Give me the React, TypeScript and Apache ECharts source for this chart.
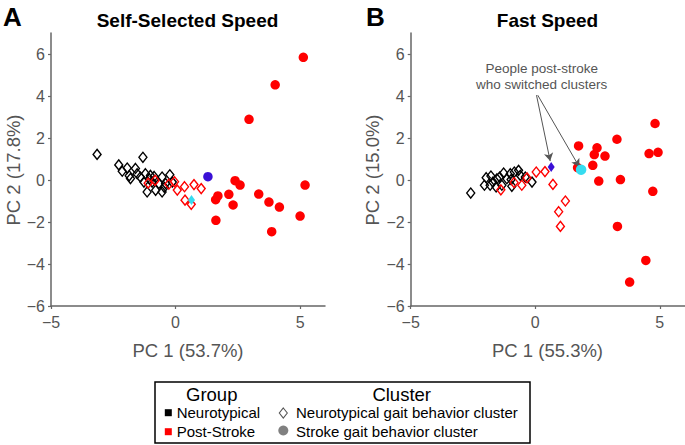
import React, { useEffect, useRef } from "react";
import * as echarts from "echarts";

// ---- Panel A: Self-Selected Speed ----
const aNeuroDiamonds: number[][] = [
  [-3.15, 1.22], [-1.31, 1.08], [-2.28, 0.72], [-2.14, 0.42], [-1.94, 0.57], [-1.86, 0.2],
  [-1.61, 0.55], [-1.81, 0.07], [-1.54, 0.3], [-1.41, 0.14], [-1.21, 0.3], [-1.01, 0.22],
  [-0.86, 0.17], [-0.54, 0.14], [-0.23, 0.25], [-1.14, -0.57], [-0.8, -0.49], [-0.54, -0.57],
  [-0.67, -0.17], [-0.4, -0.17], [-0.13, -0.1], [-1.27, -0.1], [-0.94, -0.1], [-0.45, -0.35],
  [-1.05, 0.05],
];
const aStrokeDiamonds: number[][] = [
  [-1.1, -0.15], [-0.82, -0.02], [-0.27, -0.2], [-0.04, -0.08], [0.07, -0.48], [0.36, -0.32],
  [0.74, -0.22], [1.03, -0.41], [0.38, -0.96], [0.63, -1.16],
];
const aStrokeCircles: number[][] = [
  [5.13, 5.84], [4.0, 4.53], [2.95, 2.89], [2.39, -0.03], [2.59, -0.24], [5.2, -0.24],
  [2.14, -0.68], [3.34, -0.67], [1.7, -0.76], [1.61, -0.94], [2.31, -1.19], [3.75, -1.05],
  [4.17, -1.29], [5.0, -1.72], [1.62, -1.92], [3.86, -2.46],
];
const aSwitchBlue: number[][] = [[1.3, 0.16]];
const aSwitchCyan: number[][] = [[0.64, -0.95]];

// ---- Panel B: Fast Speed ----
const bNeuroDiamonds: number[][] = [
  [-2.59, -0.62], [-2.04, -0.25], [-1.97, 0.11], [-1.78, 0.19], [-1.7, -0.1], [-1.57, -0.33],
  [-1.43, 0.14], [-1.27, 0.33], [-1.14, 0.06], [-0.94, -0.3], [-0.84, 0.38], [-0.6, 0.22],
  [-0.4, 0.14], [-0.13, -0.1], [-1.34, -0.25], [-1.0, 0.3], [-0.67, 0.46], [-1.81, -0.25],
  [-1.54, 0.06], [-0.97, 0.02],
];
const bStrokeDiamonds: number[][] = [
  [0.04, 0.38], [0.39, 0.4], [-0.33, 0.1], [0.71, -0.21], [1.21, -1.0], [0.94, -1.51],
  [1.01, -2.21], [-1.38, -0.47], [-0.54, -0.25], [-0.85, -0.12],
];
const bStrokeCircles: number[][] = [
  [4.81, 2.69], [3.28, 1.94], [1.74, 1.62], [2.48, 1.53], [2.37, 1.21], [2.8, 1.14],
  [4.57, 1.26], [4.93, 1.32], [2.31, 0.7], [1.7, 0.59], [2.55, -0.05], [3.42, 0.02],
  [4.72, -0.54], [3.3, -2.21], [4.44, -3.83], [3.79, -4.86],
];
const bSwitchBlue: number[][] = [[0.64, 0.62]];
const bSwitchCyan: number[][] = [[1.84, 0.49]];

// arrows (data coords) from annotation to switched points
const arrowStarts: number[][] = [[0.05, 4.04], [0.1, 4.04]];
const arrowEnds: number[][] = [[0.6, 0.9], [1.77, 0.62]];

const xTicks = [-5, 0, 5];
const yTicks = [-6, -4, -2, 0, 2, 4, 6];
const panelTitles = ["Self-Selected Speed", "Fast Speed"];
const xNames = ["PC 1 (53.7%)", "PC 1 (55.3%)"];
const yNames = ["PC 2 (17.8%)", "PC 2 (15.0%)"];

const FONT = "'Liberation Sans', Arial, Helvetica, sans-serif";
const RED = "#ff0000";
const BLUE = "#3a10d6";
const CYAN = "#36dcf0";
const AXIS = "#666666";
const TXT = "#555555";

export default function App() {
  const ref = useRef<HTMLDivElement>(null);
  useEffect(() => {
    if (!ref.current) return;
    const chart = echarts.init(ref.current, undefined, { renderer: "svg" });
    const minusFmt = (v: number) => String(v).replace("-", "\u2212");
    const mkX = (gi: number) => ({
      type: "value",
      gridIndex: gi,
      min: -5,
      max: 6,
      interval: 5,
      axisLine: { show: true, onZero: false, lineStyle: { color: AXIS, width: 1.5 } },
      axisTick: { show: true, length: 3, customValues: xTicks, lineStyle: { color: AXIS, width: 1.2 } },
      axisLabel: { customValues: xTicks, color: TXT, fontSize: 16, fontFamily: FONT, margin: 8, formatter: minusFmt },
      splitLine: { show: false },
    });
    const mkY = (gi: number) => ({
      type: "value",
      gridIndex: gi,
      min: -6,
      max: 7,
      interval: 2,
      axisLine: { show: true, onZero: false, lineStyle: { color: AXIS, width: 1.5 } },
      axisTick: { show: true, length: 3, customValues: yTicks, lineStyle: { color: AXIS, width: 1.2 } },
      axisLabel: { customValues: yTicks, color: TXT, fontSize: 16, fontFamily: FONT, margin: 6, formatter: minusFmt },
      splitLine: { show: false },
    });
    const openDiamond = (data: number[][], color: string, gi: number, z: number) => ({
      type: "scatter",
      xAxisIndex: gi,
      yAxisIndex: gi,
      data,
      symbol: "diamond",
      symbolSize: [8, 10],
      z,
      itemStyle: { color: "rgba(0,0,0,0)", borderColor: color, borderWidth: 1.4, opacity: 1 },
      emphasis: { disabled: true },
    });
    const filled = (data: number[][], color: string, gi: number, symbol: string, size: any, z: number) => ({
      type: "scatter",
      xAxisIndex: gi,
      yAxisIndex: gi,
      data,
      symbol,
      symbolSize: size,
      z,
      itemStyle: { color, opacity: 1 },
      emphasis: { disabled: true },
    });

    const arrowData = arrowStarts.map((s, i) => [
      { coord: s, symbol: "none" },
      { coord: arrowEnds[i], symbol: "arrow" },
    ]);

    const txt = (x: number, y: number, text: string, size: number, opts: any = {}) => ({
      type: "text",
      x,
      y,
      rotation: opts.rotation || 0,
      z: 100,
      style: {
        text,
        fontSize: size,
        fontFamily: FONT,
        fontWeight: opts.bold ? "bold" : "normal",
        fill: opts.color || "#000",
        align: opts.align || "center",
        verticalAlign: "middle",
      },
    });

    const option: any = {
      animation: false,
      backgroundColor: "#ffffff",
      grid: [
        { left: 51, top: 33, width: 274, height: 273, containLabel: false },
        { left: 410.7, top: 33, width: 274, height: 273, containLabel: false },
      ],
      xAxis: [mkX(0), mkX(1)],
      yAxis: [mkY(0), mkY(1)],
      series: [
        openDiamond(aNeuroDiamonds, "#000000", 0, 2),
        openDiamond(aStrokeDiamonds, RED, 0, 3),
        filled(aStrokeCircles, RED, 0, "circle", 9.5, 4),
        filled(aSwitchBlue, BLUE, 0, "circle", 9.5, 5),
        filled(aSwitchCyan, CYAN, 0, "diamond", [7, 10], 5),
        openDiamond(bNeuroDiamonds, "#000000", 1, 2),
        openDiamond(bStrokeDiamonds, RED, 1, 3),
        filled(bStrokeCircles, RED, 1, "circle", 9.5, 4),
        {
          ...filled(bSwitchBlue, BLUE, 1, "diamond", [7, 10], 5),
          markLine: {
            silent: true,
            animation: false,
            symbolSize: [7, 8],
            lineStyle: { color: "#555555", width: 1, type: "solid" },
            label: { show: false },
            emphasis: { disabled: true },
            data: arrowData,
          },
        },
        filled(bSwitchCyan, CYAN, 1, "circle", 10.5, 6),
      ],
      graphic: [
        txt(3, 17, "A", 26, { bold: true, align: "left" }),
        txt(187.5, 20, panelTitles[0], 19, { bold: true }),
        txt(366, 17, "B", 26, { bold: true, align: "left" }),
        txt(547.5, 20, panelTitles[1], 19, { bold: true }),
        txt(188, 350, xNames[0], 18.5, { color: TXT }),
        txt(547.5, 350, xNames[1], 18.5, { color: TXT }),
        txt(13.5, 170, yNames[0], 18.5, { color: TXT, rotation: Math.PI / 2 }),
        txt(372, 170, yNames[1], 18.5, { color: TXT, rotation: Math.PI / 2 }),
        txt(541.7, 68.3, "People post-stroke", 13.5, { color: TXT }),
        txt(541.7, 84, "who switched clusters", 13.5, { color: TXT }),
        // legend
        {
          type: "rect",
          z: 100,
          shape: { x: 155, y: 382, width: 375, height: 61 },
          style: { fill: "#ffffff", stroke: "#000000", lineWidth: 1.5 },
        },
        txt(211.7, 394, "Group", 18.5),
        txt(401.7, 394, "Cluster", 18.5),
        { type: "rect", z: 101, shape: { x: 164.8, y: 409.2, width: 7, height: 7 }, style: { fill: "#000000" } },
        { type: "rect", z: 101, shape: { x: 164.8, y: 428.2, width: 7, height: 7 }, style: { fill: RED } },
        txt(176.7, 412.7, "Neurotypical", 15, { align: "left" }),
        txt(176.7, 431.7, "Post-Stroke", 15, { align: "left" }),
        {
          type: "polygon",
          z: 101,
          shape: { points: [[283.3, 408], [287.3, 413], [283.3, 418], [279.3, 413]] },
          style: { fill: "none", stroke: "#555555", lineWidth: 1.1 },
        },
        { type: "circle", z: 101, shape: { cx: 283.3, cy: 430.5, r: 5 }, style: { fill: "#808080" } },
        txt(296, 412.7, "Neurotypical gait behavior cluster", 15, { align: "left" }),
        txt(296, 431.7, "Stroke gait behavior cluster", 15, { align: "left" }),
      ],
    };
    chart.setOption(option);
    return () => chart.dispose();
  }, []);
  return (
    <div
      ref={ref}
      style={{ position: "fixed", left: 0, top: 0, width: 685, height: 445, background: "#fff" }}
    />
  );
}
